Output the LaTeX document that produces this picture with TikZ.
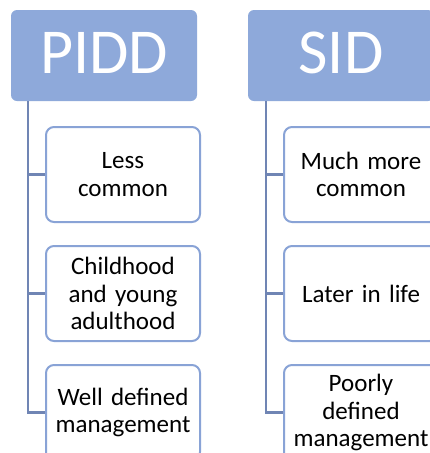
\documentclass[tikz,border=0pt]{standalone}
\usepackage{fontspec}
\setmainfont{Carlito}
\definecolor{hdrfill}{RGB}{142,169,218}
\definecolor{boxline}{RGB}{137,163,214}
\definecolor{connline}{RGB}{112,133,180}
\begin{document}
\begin{tikzpicture}[x=1pt,y=-1pt,
  header/.style={fill=hdrfill,draw=none,rounded corners=6pt,minimum width=186pt,minimum height=91pt,
    inner sep=0pt,text=white,text depth=6pt,font=\fontsize{64}{70}\selectfont},
  item/.style={draw=boxline,line width=2pt,fill=white,rounded corners=8pt,minimum width=154pt,minimum height=95pt,
    inner sep=0pt,align=center,text width=152pt,font=\fontsize{25}{27.3}\selectfont},
  conn/.style={draw=connline,line width=2.3pt}]
\useasboundingbox (0,0) rectangle (429,453);
\node[header] (pidd) at (104,55.5) {PIDD};
\node[header] (sid) at (341,55.5) {SID};
\node[item] (p1) at (123,174.5) {Less\\common};
\node[item] (p2) at (123,293.5) {Childhood\\and young\\adulthood};
\node[item] (p3) at (123,412.5) {Well defined\\management};
\node[item] (s1) at (361,174.5) {Much more\\common};
\node[item] (s2) at (361,293.5) {Later in life};
\node[item] (s3) at (361,412.5) {Poorly\\defined\\management};
\coordinate (pa) at (28,101);
\coordinate (sa) at (266,101);
\draw[conn] (pa) |- (p1.west);
\draw[conn] (pa) |- (p2.west);
\draw[conn] (pa) |- (p3.west);
\draw[conn] (sa) |- (s1.west);
\draw[conn] (sa) |- (s2.west);
\draw[conn] (sa) |- (s3.west);
\end{tikzpicture}
\end{document}
